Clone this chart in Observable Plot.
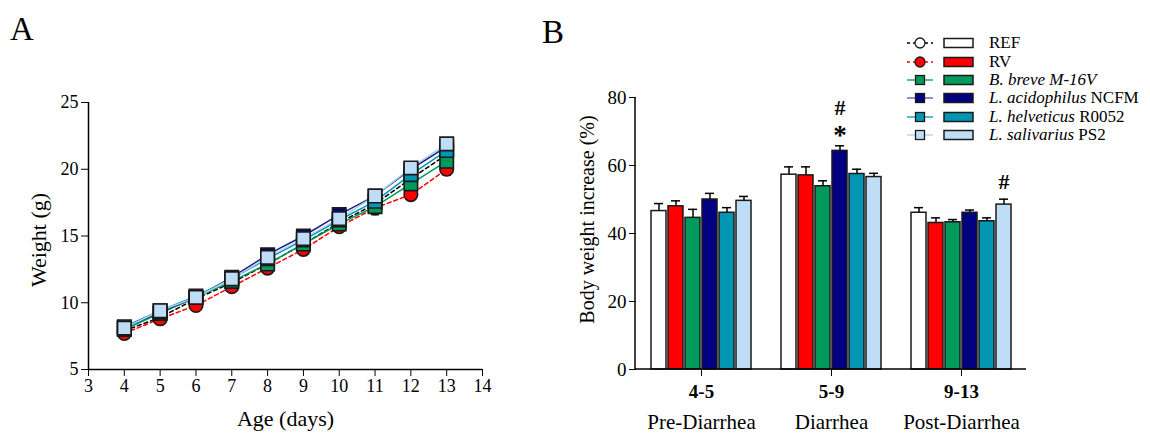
<!DOCTYPE html>
<html>
<head>
<meta charset="utf-8">
<script src="https://cdn.jsdelivr.net/npm/d3@7"></script>
<script src="https://cdn.jsdelivr.net/npm/@observablehq/plot@0.6"></script>
<style>
  body { margin: 0; background: white; }
  #wrap { position: relative; width: 1150px; height: 433px; font-family: "Liberation Serif", serif; }
  .panel { position: absolute; top: 0; z-index: 1; }
  .letter { position: absolute; font-size: 33px; line-height: 1; color: black; z-index: 3; }
  #legend { position: absolute; left: 905px; top: 34px; font-size: 17px; color: black; z-index: 3; }
  .lrow { height: 18.4px; display: flex; align-items: center; white-space: nowrap; }
  .lrow svg { margin-right: 12px; }
</style>
</head>
<body>
<div id="wrap">
  <div id="panelA" class="panel" style="left:0px;"></div>
  <div id="panelB" class="panel" style="left:540px;"></div>
  <div class="letter" style="left:10px; top:13px;">A</div>
  <div class="letter" style="left:542px; top:16px;">B</div>
  <div id="legend"></div>
</div>
<script>
// ---------- shared series ----------
const seriesKeys = ["REF", "RV", "M16V", "NCFM", "R0052", "PS2"];
const legendItalic = ["", "", "B. breve M-16V", "L. acidophilus", "L. helveticus", "L. salivarius"];
const legendPlain = ["REF", "RV", "", "NCFM", "R0052", "PS2"];
const fills = ["#ffffff", "#ff0000", "#009a5c", "#000080", "#0096b4", "#c0ddf7"];
const lineColors = ["#000000", "#ff0000", "#009a5c", "#1c1c8c", "#0096b4", "#a9cff0"];
const symbols = ["circle", "circle", "square", "square", "square", "square"];
const dashed = [true, true, false, false, false, false];

// ---------- panel A data: weight (g) by age (days) ----------
const days = [4, 5, 6, 7, 8, 9, 10, 11, 12, 13];
const wREF   = [7.9, 8.9, 10.3, 11.5, 12.9, 14.4, 16.0, 17.4, 19.3, 21.1];
const wRV    = [7.7, 8.8, 9.8, 11.2, 12.6, 14.0, 15.7, 17.1, 18.1, 20.0];
const wM16V  = [8.0, 9.2, 10.4, 11.6, 12.9, 14.4, 15.9, 17.2, 18.9, 20.6];
const wNCFM  = [8.1, 9.3, 10.4, 11.9, 13.6, 15.0, 16.6, 18.0, 20.0, 21.7];
const wR0052 = [8.2, 9.4, 10.5, 11.8, 13.3, 14.7, 16.2, 17.6, 19.6, 21.4];
const wPS2   = [8.1, 9.4, 10.4, 11.8, 13.4, 14.8, 16.3, 18.0, 20.1, 21.9];
const eREF   = [0.2, 0.2, 0.2, 0.25, 0.3, 0.3, 0.3, 0.35, 0.35, 0.4];
const eRV    = [0.2, 0.2, 0.2, 0.25, 0.3, 0.3, 0.35, 0.5, 0.4, 0.45];
const eM16V  = [0.2, 0.2, 0.2, 0.25, 0.3, 0.3, 0.3, 0.35, 0.4, 0.4];
const eNCFM  = [0.2, 0.2, 0.2, 0.2, 0.25, 0.25, 0.3, 0.3, 0.35, 0.35];
const eR0052 = [0.2, 0.2, 0.2, 0.2, 0.25, 0.25, 0.3, 0.3, 0.35, 0.35];
const ePS2   = [0.2, 0.2, 0.2, 0.2, 0.25, 0.25, 0.3, 0.3, 0.35, 0.35];
const weights = [wREF, wRV, wM16V, wNCFM, wR0052, wPS2];
const weightErr = [eREF, eRV, eM16V, eNCFM, eR0052, ePS2];
const xTicksA = [3, 4, 5, 6, 7, 8, 9, 10, 11, 12, 13, 14];
const yTicksA = [5, 10, 15, 20, 25];
const xLabelA = "Age (days)";
const yLabelA = "Weight (g)";

// ---------- panel B data: body weight increase (%) ----------
const groups = ["4-5", "5-9", "9-13"];
const phases = ["Pre-Diarrhea", "Diarrhea", "Post-Diarrhea"];
const incREF   = [46.6, 57.3, 46.1];
const incRV    = [48.0, 57.1, 43.1];
const incM16V  = [44.6, 53.9, 43.3];
const incNCFM  = [50.0, 64.3, 46.1];
const incR0052 = [46.1, 57.5, 43.6];
const incPS2   = [49.6, 56.6, 48.5];
const errREF   = [2.2, 2.3, 1.5];
const errRV    = [1.6, 2.5, 1.5];
const errM16V  = [2.5, 1.6, 0.8];
const errNCFM  = [1.8, 1.5, 0.8];
const errR0052 = [1.5, 1.4, 1.0];
const errPS2   = [1.3, 1.1, 1.6];
const increases = [incREF, incRV, incM16V, incNCFM, incR0052, incPS2];
const incErr = [errREF, errRV, errM16V, errNCFM, errR0052, errPS2];
const yTicksB = [0, 20, 40, 60, 80];
const yLabelB = "Body weight increase (%)";
const starMarks = [{group: "5-9", series: "NCFM"}];
const hashMarks = [{group: "5-9", series: "NCFM"}, {group: "9-13", series: "PS2"}];

const font = "Liberation Serif";

// ---------- Panel A ----------
const rowsA = [];
seriesKeys.forEach((s, si) => days.forEach((d, di) =>
  rowsA.push({series: s, si, day: d, w: weights[si][di], e: weightErr[si][di]})));

const capSymbol = {
  draw(ctx, size) {
    const h = Math.sqrt(size / Math.PI);
    ctx.moveTo(-h, 0); ctx.lineTo(h, 0);
  }
};

const marksA = [
  Plot.ruleX([3], {y1: 5, y2: 25, stroke: "black", strokeWidth: 1.5}),
  Plot.ruleY([5], {x1: 3, x2: 14, stroke: "black", strokeWidth: 1.5}),
  Plot.text([yLabelA], {text: d => d, frameAnchor: "left", textAnchor: "middle", lineAnchor: "middle",
    rotate: -90, dx: -50, dy: 4, fontSize: 22}),
  Plot.text([xLabelA], {text: d => d, frameAnchor: "bottom", textAnchor: "middle", lineAnchor: "middle",
    dy: 49, fontSize: 22})
];
seriesKeys.forEach((s, si) => {
  const rows = rowsA.filter(r => r.si === si);
  marksA.push(Plot.line(rows, {x: "day", y: "w", stroke: lineColors[si], strokeWidth: 1.5,
    strokeDasharray: dashed[si] ? "4,3" : null}));
});
seriesKeys.forEach((s, si) => {
  const rows = rowsA.filter(r => r.si === si);
  marksA.push(Plot.ruleX(rows, {x: "day", y1: d => d.w - d.e, y2: d => d.w + d.e, stroke: "black", strokeWidth: 1.5}));
  marksA.push(Plot.dot(rows, {x: "day", y: d => d.w - d.e, symbol: capSymbol, r: 4, fill: "none", stroke: "black", strokeWidth: 1.5}));
  marksA.push(Plot.dot(rows, {x: "day", y: d => d.w + d.e, symbol: capSymbol, r: 4, fill: "none", stroke: "black", strokeWidth: 1.5}));
});
seriesKeys.forEach((s, si) => {
  const rows = rowsA.filter(r => r.si === si);
  marksA.push(Plot.dot(rows, {x: "day", y: "w", symbol: symbols[si], r: symbols[si] === "circle" ? 6.8 : 7.6,
    fill: fills[si], stroke: "#1a1a1a", strokeWidth: 1.6}));
});

const chartA = Plot.plot({
  width: 540, height: 433,
  marginLeft: 88, marginRight: 58, marginTop: 102, marginBottom: 64,
  style: {fontFamily: font, fontSize: "18px", background: "white", color: "black", overflow: "visible"},
  x: {domain: [3, 14], ticks: xTicksA, tickSize: 7, tickPadding: 3, label: null},
  y: {domain: [5, 25], ticks: yTicksA, tickSize: 7, tickPadding: 3, label: null},
  marks: marksA
});
document.getElementById("panelA").appendChild(chartA);

// ---------- Panel B ----------
const rowsB = [];
groups.forEach((g, gi) => seriesKeys.forEach((s, si) =>
  rowsB.push({group: g, series: s, value: increases[si][gi], err: incErr[si][gi]})));
const topOf = (g, s) => rowsB.find(r => r.group === g && r.series === s);
const starRows = starMarks.map(m => ({...m, top: topOf(m.group, m.series).value + topOf(m.group, m.series).err}));
const hashRows = hashMarks.map(m => ({...m, top: topOf(m.group, m.series).value + topOf(m.group, m.series).err,
  stacked: starMarks.some(s => s.group === m.group && s.series === m.series)}));

const mB = {left: 95, right: 124, top: 97, bottom: 64};
const chartB = Plot.plot({
  width: 610, height: 433,
  marginLeft: mB.left, marginRight: mB.right, marginTop: mB.top, marginBottom: mB.bottom,
  style: {fontFamily: font, fontSize: "19px", background: "white", color: "black", overflow: "visible"},
  fx: {domain: groups, padding: 0, axis: "bottom", tickSize: 7, tickFormat: () => "", label: null},
  x: {domain: seriesKeys, axis: null, paddingInner: 0.1, paddingOuter: 0.71},
  y: {domain: [0, 80], ticks: yTicksB, tickSize: 7, tickPadding: 3, label: null},
  color: {domain: seriesKeys, range: fills},
  marks: [
    Plot.barY(rowsB, {fx: "group", x: "series", y: "value", fill: "series", stroke: "#1a1a1a", strokeWidth: 1.5, inset: 0}),
    Plot.ruleX(rowsB, {fx: "group", x: "series", y1: "value", y2: d => d.value + d.err, stroke: "black", strokeWidth: 1.5}),
    Plot.tickY(rowsB, {fx: "group", x: "series", y: d => d.value + d.err, stroke: "black", strokeWidth: 1.5, insetLeft: 3, insetRight: 3}),
    Plot.text(starRows, {fx: "group", x: "series", y: "top", text: () => "*", fontSize: 27, fontWeight: "bold", dy: -10}),
    Plot.text(hashRows.filter(r => r.stacked), {fx: "group", x: "series", y: "top", text: () => "#", fontSize: 22, fontWeight: "bold", dy: -38}),
    Plot.text(hashRows.filter(r => !r.stacked), {fx: "group", x: "series", y: "top", text: () => "#", fontSize: 22, fontWeight: "bold", dy: -17}),
    Plot.text(groups, {fx: d => d, text: d => d, frameAnchor: "bottom", textAnchor: "middle", lineAnchor: "middle",
      dy: 22, fontSize: 19, fontWeight: "bold"}),
    Plot.text(groups, {fx: d => d, text: (d, i) => phases[i], frameAnchor: "bottom", textAnchor: "middle", lineAnchor: "middle",
      dy: 53, fontSize: 21}),
    Plot.text([yLabelB], {fx: () => groups[0], text: d => d, frameAnchor: "left", textAnchor: "middle", lineAnchor: "middle",
      rotate: -90, dx: -49, dy: -14, fontSize: 20})
  ]
});
{
  const ys = chartB.scale("y");
  const y0 = ys.apply(0), y80 = ys.apply(80);
  const svg = d3.select(chartB.tagName.toLowerCase() === "svg" ? chartB : chartB.querySelector("svg"));
  svg.append("line").attr("x1", mB.left).attr("x2", 610 - mB.right).attr("y1", y0).attr("y2", y0)
    .attr("stroke", "black").attr("stroke-width", 1.5);
  svg.append("line").attr("x1", mB.left).attr("x2", mB.left).attr("y1", y80).attr("y2", y0)
    .attr("stroke", "black").attr("stroke-width", 1.5);
}
document.getElementById("panelB").appendChild(chartB);

// ---------- Legend ----------
const legend = document.getElementById("legend");
seriesKeys.forEach((s, si) => {
  const row = document.createElement("div");
  row.className = "lrow";
  const ns = "http://www.w3.org/2000/svg";
  const sv = document.createElementNS(ns, "svg");
  sv.setAttribute("width", 72); sv.setAttribute("height", 14);
  const ln = document.createElementNS(ns, "line");
  ln.setAttribute("x1", 2); ln.setAttribute("x2", 28); ln.setAttribute("y1", 7); ln.setAttribute("y2", 7);
  ln.setAttribute("stroke", si === 3 ? "#5555a8" : lineColors[si]); ln.setAttribute("stroke-width", 1.3);
  if (dashed[si]) ln.setAttribute("stroke-dasharray", "3,3");
  sv.appendChild(ln);
  let mk;
  if (symbols[si] === "circle") {
    mk = document.createElementNS(ns, "circle");
    mk.setAttribute("cx", 15); mk.setAttribute("cy", 7); mk.setAttribute("r", 5);
  } else {
    mk = document.createElementNS(ns, "rect");
    mk.setAttribute("x", 10.5); mk.setAttribute("y", 2.5); mk.setAttribute("width", 9); mk.setAttribute("height", 9);
  }
  mk.setAttribute("fill", fills[si]); mk.setAttribute("stroke", "#1a1a1a"); mk.setAttribute("stroke-width", 1.3);
  sv.appendChild(mk);
  const rc = document.createElementNS(ns, "rect");
  rc.setAttribute("x", 39); rc.setAttribute("y", 2.5); rc.setAttribute("width", 29); rc.setAttribute("height", 9);
  rc.setAttribute("fill", fills[si]); rc.setAttribute("stroke", "#1a1a1a"); rc.setAttribute("stroke-width", 1.5);
  sv.appendChild(rc);
  row.appendChild(sv);
  const label = document.createElement("span");
  if (legendItalic[si]) {
    const it = document.createElement("i");
    it.textContent = legendItalic[si];
    label.appendChild(it);
  }
  if (legendPlain[si]) {
    label.appendChild(document.createTextNode((legendItalic[si] ? " " : "") + legendPlain[si]));
  }
  row.appendChild(label);
  legend.appendChild(row);
});
</script>
</body>
</html>
